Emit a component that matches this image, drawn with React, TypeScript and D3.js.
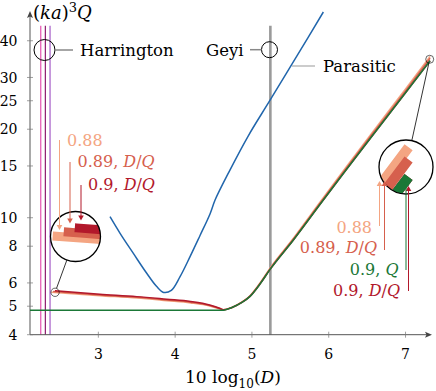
import React from "react";
import * as d3 from "d3";

// axis ticks
const xTicks = [3, 4, 5, 6, 7];
const yTicks = [4, 5, 6, 8, 10, 15, 20, 25, 30, 40];

// Parasitic (blue)
const blueX = [3.152, 3.283, 3.456, 3.63, 3.76, 3.85, 3.95, 4.064, 4.194, 4.324, 4.454, 4.52, 4.7, 4.953, 5.236, 5.6, 5.93];
const blueY = [10.08, 8.85, 7.56, 6.47, 5.83, 5.57, 5.66, 6.3, 7.37, 8.7, 10.3, 11.49, 14.3, 19.0, 25.1, 36.0, 50.1];

// 0.9, Q (green)
const greenX = [2.11, 4.0, 4.61, 4.74, 4.87, 4.975, 5.105, 5.236, 5.54, 5.89, 6.21, 6.56, 7.0, 7.32];
const greenY = [4.84, 4.84, 4.84, 4.95, 5.15, 5.4, 5.95, 6.67, 8.4, 11.13, 14.36, 18.9, 26.6, 34.2];

// 0.9, D/Q (red)
const redX = [2.435, 3.02, 3.5, 3.89, 4.2, 4.45, 4.58, 4.63, 4.74, 4.87, 4.975, 5.105, 5.236, 5.54, 5.89, 6.21, 6.56, 7.0, 7.32];
const redY = [5.64, 5.49, 5.39, 5.28, 5.19, 5.05, 4.92, 4.86, 4.95, 5.15, 5.4, 5.95, 6.67, 8.4, 11.13, 14.36, 18.9, 26.6, 34.2];

// 0.89, D/Q (coral)
const coralX = [2.411, 3.02, 3.5, 3.89, 4.2, 4.45, 4.58, 4.63, 4.74, 4.87, 4.975, 5.105, 5.236, 5.54, 5.89, 6.21, 6.56, 7.0, 7.32];
const coralY = [5.61, 5.46, 5.36, 5.25, 5.16, 5.03, 4.91, 4.86, 4.95, 5.16, 5.42, 5.97, 6.7, 8.46, 11.23, 14.52, 19.15, 27.0, 34.9];

// 0.88 (salmon)
const salmonX = [2.387, 3.02, 3.5, 3.89, 4.2, 4.45, 4.58, 4.63, 4.74, 4.87, 4.975, 5.105, 5.236, 5.54, 5.89, 6.21, 6.56, 7.0, 7.32];
const salmonY = [5.58, 5.43, 5.33, 5.22, 5.13, 5.01, 4.9, 4.86, 4.95, 5.17, 5.43, 6.0, 6.74, 8.52, 11.33, 14.68, 19.4, 27.4, 35.4];

// Harrington lines and Geyi line
const harringtonX = [2.25, 2.31, 2.371];
const harringtonColors = ["#e652b0", "#8e1a6e", "#a45bc7"];
const geyiX = 5.24;

const C = {
  blue: "#2166ac",
  green: "#1b7837",
  red: "#b2182b",
  coral: "#d6604d",
  salmon: "#f4a582",
};

const font = "'DejaVu Serif', serif";

const x = d3.scaleLinear().domain([2.11, 7.32]).range([30, 430.1]);
const y = d3.scaleLog().domain([4, 45]).range([334.7, 25.7]);

const line = d3
  .line<[number, number]>()
  .x((d) => x(d[0]))
  .y((d) => y(d[1]))
  .curve(d3.curveMonotoneX);

const smoothLine = d3
  .line<[number, number]>()
  .x((d) => x(d[0]))
  .y((d) => y(d[1]))
  .curve(d3.curveCatmullRom.alpha(0.5));

const series = [
  { xs: salmonX, ys: salmonY, color: C.salmon },
  { xs: coralX, ys: coralY, color: C.coral },
  { xs: redX, ys: redY, color: C.red },
  { xs: greenX, ys: greenY, color: C.green },
];

const Curves = () => (
  <g fill="none" strokeWidth={1.5}>
    {series.map((s, i) => (
      <path key={i} d={line(d3.zip(s.xs, s.ys) as [number, number][]) || ""} stroke={s.color} />
    ))}
  </g>
);

const Arrow = ({ ax, y1, y2, color }: { ax: number; y1: number; y2: number; color: string }) => {
  const dir = y2 > y1 ? 1 : -1;
  return (
    <g>
      <line x1={ax} x2={ax} y1={y1} y2={y2 - dir * 4} stroke={color} strokeWidth={1} />
      <path d={`M${ax - 2.8},${y2 - dir * 5}L${ax + 2.8},${y2 - dir * 5}L${ax},${y2}Z`} fill={color} />
    </g>
  );
};

// spy insets: small circle around a data point, magnified into a big circle
const Spy = ({ id, sx, sy, cx, cy, r, m }: { id: string; sx: number; sy: number; cx: number; cy: number; r: number; m: number }) => {
  const px = x(sx);
  const py = y(sy);
  const sr = r / m;
  const dx = cx - px;
  const dy = cy - py;
  const len = Math.hypot(dx, dy);
  const ux = dx / len;
  const uy = dy / len;
  return (
    <g>
      <defs>
        <clipPath id={id}>
          <circle cx={cx} cy={cy} r={r} />
        </clipPath>
      </defs>
      <circle cx={px} cy={py} r={sr} fill="none" stroke="#000" strokeWidth={0.6} />
      <line x1={px + ux * sr} y1={py + uy * sr} x2={cx - ux * r} y2={cy - uy * r} stroke="#000" strokeWidth={0.8} />
      <circle cx={cx} cy={cy} r={r} fill="#fff" />
      <g clipPath={`url(#${id})`}>
        <g transform={`translate(${cx},${cy}) scale(${m}) translate(${-px},${-py})`}>
          <Curves />
        </g>
      </g>
      <circle cx={cx} cy={cy} r={r} fill="none" stroke="#000" strokeWidth={1.3} />
    </g>
  );
};

const DQ = () => (
  <>
    <tspan fontStyle="italic">D</tspan>/<tspan fontStyle="italic">Q</tspan>
  </>
);

const App = () => {
  const blue = smoothLine(d3.zip(blueX, blueY) as [number, number][]) || "";
  const x0 = x.range()[0];
  const y0 = y.range()[0];
  return (
    <svg width={436} height={391} style={{ position: "absolute", left: 0, top: 0 }}>
      <g fontFamily={font}>
        {/* reference verticals */}
        {harringtonX.map((v, i) => (
          <line key={i} x1={x(v)} x2={x(v)} y1={y(45)} y2={y0} stroke={harringtonColors[i]} strokeWidth={1.2} />
        ))}
        <line x1={x(geyiX)} x2={x(geyiX)} y1={y(45)} y2={y0} stroke="#9a9a9a" strokeWidth={2.6} />

        {/* axes */}
        <g stroke="#555" strokeWidth={1}>
          <line x1={x0} x2={x0} y1={y0} y2={16} />
          <line x1={x0} x2={427} y1={y0} y2={y0} />
        </g>
        <path d={`M${x0},11 L${x0 - 3},18 L${x0},16.5 L${x0 + 3},18Z`} fill="#444" />
        <path d={`M432,${y0} L425,${y0 - 3} L426.5,${y0} L425,${y0 + 3}Z`} fill="#444" />
        <g stroke="#777" strokeWidth={0.7}>
          {yTicks.map((t) => (
            <line key={t} x1={x0 - 3} x2={x0 + 3} y1={y(t)} y2={y(t)} />
          ))}
          {xTicks.map((t) => (
            <line key={t} x1={x(t)} x2={x(t)} y1={y0 - 3} y2={y0 + 3} />
          ))}
        </g>
        <g fontSize={14} fill="#000">
          {yTicks.map((t) => (
            <text key={t} x={17.5} y={y(t)} dy="0.36em" textAnchor="end">
              {t}
            </text>
          ))}
          {xTicks.map((t) => (
            <text key={t} x={x(t)} y={359} textAnchor="middle">
              {t}
            </text>
          ))}
        </g>
        <text x={185} y={383} fontSize={17}>
          10 log<tspan fontSize={12} dy={5}>10</tspan>
          <tspan dy={-5}>(</tspan>
          <tspan fontStyle="italic">D</tspan>)
        </text>
        <text x={33} y={19} fontSize={18}>
          (<tspan fontStyle="italic">ka</tspan>)<tspan fontSize={13} dy={-7}>3</tspan>
          <tspan dy={7} fontStyle="italic">Q</tspan>
        </text>

        {/* curves */}
        <path d={blue} fill="none" stroke={C.blue} strokeWidth={1.5} />
        <Curves />

        {/* legend entries */}
        <circle cx={44.5} cy={50} r={10.5} fill="none" stroke="#000" strokeWidth={1} />
        <line x1={55} x2={73} y1={50} y2={50} stroke="#888" strokeWidth={1.5} />
        <text x={80} y={56} fontSize={16.5}>Harrington</text>
        <circle cx={269.5} cy={49.7} r={8} fill="none" stroke="#000" strokeWidth={1} />
        <line x1={250} x2={261.5} y1={49.7} y2={49.7} stroke="#888" strokeWidth={1.5} />
        <text x={243.5} y={56} fontSize={16.5} textAnchor="end">Geyi</text>
        <line x1={292} x2={315} y1={66} y2={66} stroke="#ccc" strokeWidth={2} />
        <text x={323} y={72} fontSize={16.5}>Parasitic</text>

        {/* insets */}
        <Spy id="spyL" sx={2.4365} sy={5.576} cx={75.5} cy={236.5} r={25} m={6} />
        <Spy id="spyR" sx={7.315} sy={34.6} cx={406} cy={167} r={27} m={6.75} />

        {/* left annotations */}
        <Arrow ax={59.5} y1={140} y2={230} color={C.salmon} />
        <Arrow ax={70} y1={162} y2={223.5} color={C.coral} />
        <Arrow ax={81} y1={185} y2={220.5} color={C.red} />
        <g fontSize={16}>
          <text x={67} y={146} fill={C.salmon}>0.88</text>
          <text x={77.5} y={167} fill={C.coral}>
            0.89, <DQ />
          </text>
          <text x={88} y={189.5} fill={C.red}>
            0.9, <DQ />
          </text>
        </g>

        {/* right annotations */}
        <Arrow ax={379.5} y1={226} y2={181} color={C.salmon} />
        <Arrow ax={384.5} y1={250} y2={181} color={C.coral} />
        <Arrow ax={408.5} y1={291} y2={186} color={C.red} />
        <Arrow ax={406} y1={270} y2={181} color={C.green} />
        <g fontSize={16} textAnchor="end">
          <text x={372} y={233} fill={C.salmon}>0.88</text>
          <text x={377} y={253} fill={C.coral}>
            0.89, <DQ />
          </text>
          <text x={398.5} y={275} fill={C.green}>
            0.9, <tspan fontStyle="italic">Q</tspan>
          </text>
          <text x={400} y={296} fill={C.red}>
            0.9, <DQ />
          </text>
        </g>
      </g>
    </svg>
  );
};

export default App;
